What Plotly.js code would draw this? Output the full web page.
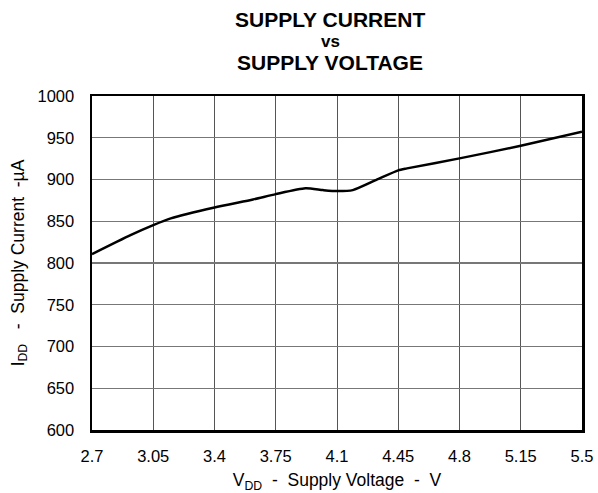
<!DOCTYPE html>
<html>
<head>
<meta charset="utf-8">
<script src="https://cdn.plot.ly/plotly-3.0.1.min.js"></script>
<style>html,body{margin:0;padding:0;background:#fff;}</style>
</head>
<body>
<div id="chart" style="width:598px;height:493px;"></div>
<script>
const voltage = [2.7, 2.92, 3.05, 3.15, 3.4, 3.62, 3.75, 3.92, 4.02, 4.1, 4.19, 4.33, 4.45, 4.5, 4.8, 5.15, 5.5];
const current = [810.6, 833.3, 845.3, 853.4, 866.5, 876.1, 882.5, 889.5, 887.3, 886.1, 887.3, 900.1, 911, 913.3, 925.3, 940.4, 957.2];
const xTicks = [2.7, 3.05, 3.4, 3.75, 4.1, 4.45, 4.8, 5.15, 5.5];
const xTickText = ['2.7', '3.05', '3.4', '3.75', '4.1', '4.45', '4.8', '5.15', '5.5'];
const yTicks = [600, 650, 700, 750, 800, 850, 900, 950, 1000];
const titleLines = ['SUPPLY CURRENT', 'vs', 'SUPPLY VOLTAGE'];

const font = 'Liberation Sans, Arial, sans-serif';

Plotly.newPlot('chart', [{
  x: voltage,
  y: current,
  type: 'scatter',
  mode: 'lines',
  line: {color: '#000', width: 2.5, shape: 'spline', smoothing: 0.6},
  hoverinfo: 'skip'
}], {
  width: 598,
  height: 493,
  margin: {l: 92, r: 16, t: 96, b: 63},
  paper_bgcolor: '#fff',
  plot_bgcolor: '#fff',
  showlegend: false,
  font: {family: font, color: '#000'},
  annotations: [
    {text: '<b>' + titleLines[0] + '</b>', xref: 'paper', yref: 'paper', x: 0.486, y: 1.229, xanchor: 'center', yanchor: 'middle', showarrow: false, font: {family: font, size: 21, color: '#000'}},
    {text: '<b>' + titleLines[1] + '</b>', xref: 'paper', yref: 'paper', x: 0.486, y: 1.162, xanchor: 'center', yanchor: 'middle', showarrow: false, font: {family: font, size: 17, color: '#000'}},
    {text: '<b>' + titleLines[2] + '</b>', xref: 'paper', yref: 'paper', x: 0.486, y: 1.100, xanchor: 'center', yanchor: 'middle', showarrow: false, font: {family: font, size: 21, color: '#000'}}
  ],
  xaxis: {
    range: [2.7, 5.5],
    tickvals: xTicks,
    ticktext: xTickText,
    showgrid: true,
    gridcolor: '#555',
    gridwidth: 1,
    zeroline: false,
    showline: true,
    linecolor: '#000',
    linewidth: 2.5,
    mirror: true,
    ticks: '',
    ticklabelstandoff: 10,
    tickfont: {family: font, size: 16.5, color: '#000'},
    title: {text: 'V<sub>DD</sub>  -  Supply Voltage  -  V', font: {family: font, size: 17.5, color: '#000'}, standoff: 11}
  },
  yaxis: {
    range: [600, 1000],
    tickvals: yTicks,
    showgrid: true,
    gridcolor: '#777',
    gridwidth: 1.2,
    zeroline: false,
    showline: true,
    linecolor: '#000',
    linewidth: 2.5,
    mirror: true,
    ticks: '',
    ticklabelstandoff: 12,
    tickfont: {family: font, size: 16.5, color: '#000'},
    title: {text: 'I<sub>DD</sub>   -  Supply Current  -µA', font: {family: font, size: 17.5, color: '#000'}, standoff: 9}
  }
}, {displayModeBar: false, staticPlot: true});
</script>
</body>
</html>
